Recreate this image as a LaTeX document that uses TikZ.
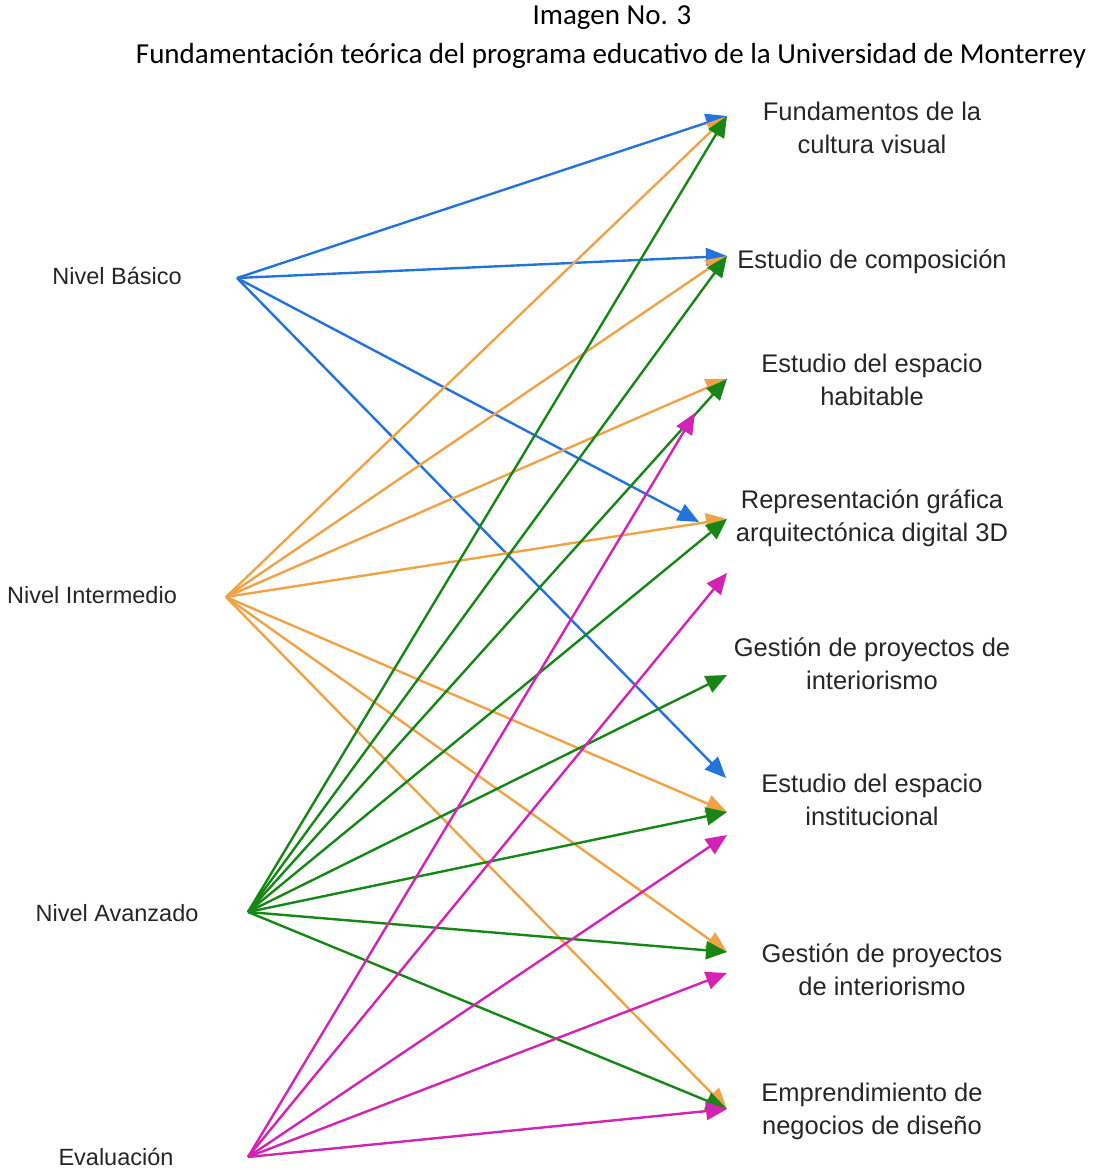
\documentclass[tikz,border=0pt]{standalone}
\usepackage{fontspec}
\setmainfont{Liberation Sans}
\newfontfamily\titlefont{Carlito}
\usetikzlibrary{arrows.meta}
\definecolor{cblue}{RGB}{35,115,220}
\definecolor{corange}{RGB}{240,162,70}
\definecolor{cgreen}{RGB}{22,135,22}
\definecolor{cmag}{RGB}{210,35,180}
\tikzset{
  lbl/.style={font=\fontsize{23.5}{30}\selectfont, inner sep=0pt, text=black!85},
  rlbl/.style={font=\fontsize{25.5}{33}\selectfont, align=center, inner sep=0pt, text=black!85},
  conn/.style={line width=2.4pt, -{Triangle[length=21pt,width=18pt]}},
}
\begin{document}
\begin{tikzpicture}[x=1pt,y=-1pt]
\useasboundingbox (0,0) rectangle (1095,1169);
% titles
\node[font=\titlefont\fontsize{29}{32}\selectfont, inner sep=0pt] (title) at (612,18) {Imagen No. 3};
\node[font=\titlefont\fontsize{29}{32}\selectfont, inner sep=0pt] (subtitle) at (611,56) {Fundamentación teórica del programa educativo de la Universidad de Monterrey};
% left labels
\node[lbl] (basico) at (117,276) {Nivel Básico};
\node[lbl] (inter) at (92,595) {Nivel Intermedio};
\node[lbl] (avanz) at (117,913) {Nivel Avanzado};
\node[lbl] (evalu) at (116,1157) {Evaluación};
% right labels
\node[rlbl] (r1) at (872,128) {Fundamentos de la\\cultura visual};
\node[rlbl] (r2) at (872,262) {Estudio de composición};
\node[rlbl] (r3) at (872,380) {Estudio del espacio\\habitable};
\node[rlbl] (r4) at (872,518) {Representación gráfica\\arquitectónica digital 3D};
\node[rlbl] (r5) at (872,664) {Gestión de proyectos de\\interiorismo};
\node[rlbl] (r6) at (872,800) {Estudio del espacio\\institucional};
\node[rlbl] (r7) at (882,970) {Gestión de proyectos\\de interiorismo};
\node[rlbl] (r8) at (872,1111) {Emprendimiento de\\negocios de diseño};
% origins
\coordinate (oB) at (237,278);
\coordinate (oI) at (226,597);
\coordinate (oA) at (248,912);
\coordinate (oE) at (248,1157);
% tips
\coordinate (t1) at (727,116);
\coordinate (t2) at (727,256);
\coordinate (t3) at (727,379);
\coordinate (t4) at (727,519);
\coordinate (t4b) at (699,522);
\coordinate (t3m) at (695,413);
\coordinate (t5m) at (727,573);
\coordinate (t5) at (727,675);
\coordinate (t6b) at (726,778);
\coordinate (t6) at (727,812);
\coordinate (t6m) at (727,835);
\coordinate (t7) at (727,952);
\coordinate (t7m) at (727,973);
\coordinate (t8) at (727,1109);
% blue
\foreach \t in {t1,t2,t4b,t6b} \draw[conn, cblue] (oB) -- (\t);
% orange
\foreach \t in {t1,t2,t3,t4,t6,t7,t8} \draw[conn, corange] (oI) -- (\t);
% green
\foreach \t in {t1,t2,t3,t4,t5,t6,t7,t8} \draw[conn, cgreen] (oA) -- (\t);
% magenta
\foreach \t in {t3m,t5m,t6m,t7m,t8} \draw[conn, cmag] (oE) -- (\t);
\end{tikzpicture}
\end{document}
